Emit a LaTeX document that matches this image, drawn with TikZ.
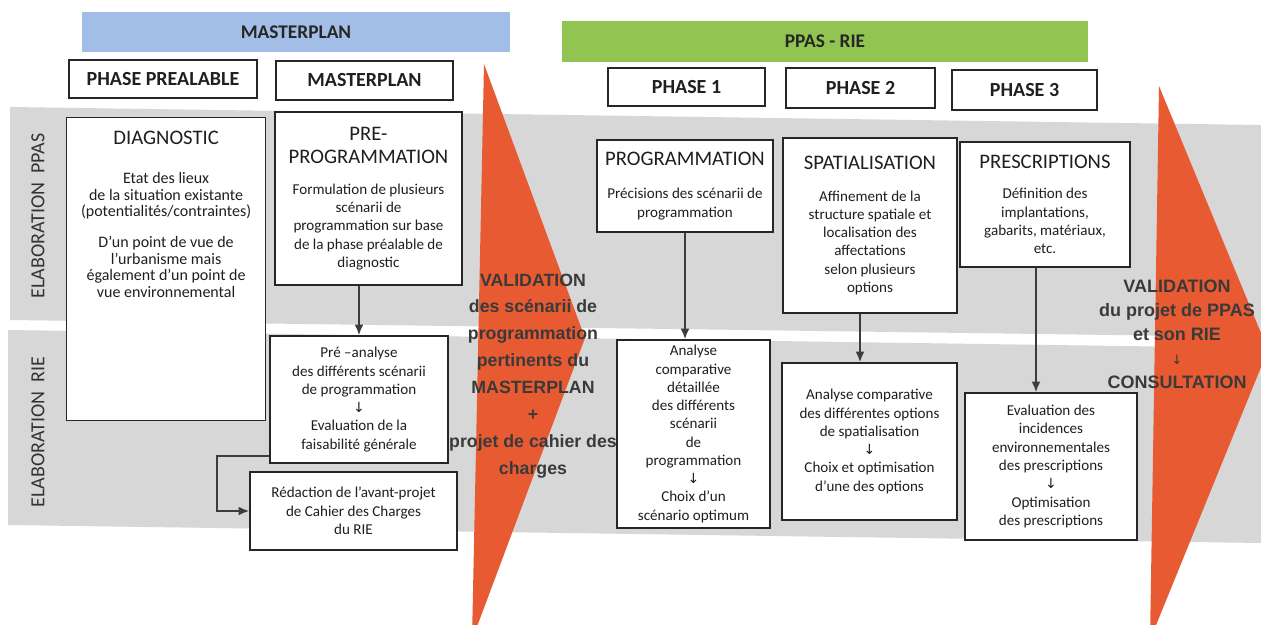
\documentclass[tikz,border=0pt]{standalone}
\usepackage{fontspec}
\setmainfont{Carlito}
\newfontfamily\valfont{Liberation Sans}
\newfontfamily\symfont{DejaVu Sans}
\usetikzlibrary{arrows.meta}
\definecolor{bandgray}{RGB}{215,215,215}
\definecolor{orng}{RGB}{232,90,50}
\definecolor{mpblue}{RGB}{162,190,230}
\definecolor{ppgreen}{RGB}{146,196,82}
\definecolor{valtxt}{RGB}{58,58,58}
\definecolor{conncol}{RGB}{60,60,60}
\newcommand{\darr}{{\symfont\fontsize{10.5}{10}\selectfont ↓}}
\newcommand{\ttl}[1]{{\fontsize{15.5}{18}\selectfont #1}}
\begin{document}
\begin{tikzpicture}[x=0.75pt,y=-0.75pt,
  box/.style={draw=black!85, line width=0.9pt, fill=white, align=center, inner sep=0pt, text=black!88, font=\fontsize{11.3}{13.7}\selectfont},
  hdr/.style={draw=black!85, line width=0.9pt, fill=white, inner sep=0pt, text=black!88, font=\fontsize{15}{18}\selectfont\bfseries},
  bar/.style={inner sep=0pt, text=black!85, font=\fontsize{14.5}{18}\selectfont\bfseries},
  conn/.style={draw=conncol, line width=1.4pt, -{Latex[length=8pt,width=6.5pt]}},
  vlab/.style={rotate=90, text=black!80, font=\fontsize{15}{18}\selectfont},
  valtext/.style={align=center, text=valtxt, inner sep=0pt}
]
\useasboundingbox (0,0) rectangle (1261,625);
\clip (0,0) rectangle (1261,625);
\fill[white] (0,0) rectangle (1261,625);

% bands
\fill[bandgray] (10,107) -- (1261,125) -- (1261,337) -- (10,320) -- cycle;
\fill[bandgray] (8,330) -- (1261,348) -- (1261,543) -- (8,525) -- cycle;

% orange chevrons
\fill[orng] (484,64) -- (585,338) -- (472,640) -- cycle;
\fill[orng] (1159,86) -- (1268,350) -- (1150,640) -- cycle;

% top bars
\node[bar, fill=mpblue, minimum width=321pt, minimum height=30pt] (barmp) at (296,32) {MASTERPLAN};
\node[bar, fill=ppgreen, minimum width=394.5pt, minimum height=30.75pt] (barpp) at (825,41.5) {PPAS - RIE};

% header boxes
\node[hdr, minimum width=141pt, minimum height=28.5pt] (hprea) at (163,79) {PHASE PREALABLE};
\node[hdr, minimum width=132.75pt, minimum height=29.25pt] (hmp) at (364.5,80.5) {MASTERPLAN};
\node[hdr, minimum width=117.75pt, minimum height=28.5pt] (hp1) at (686.5,87) {PHASE 1};
\node[hdr, minimum width=111.75pt, minimum height=30pt] (hp2) at (860.5,88) {PHASE 2};
\node[hdr, minimum width=108.75pt, minimum height=30pt] (hp3) at (1024.5,90) {PHASE 3};

% vertical labels
\node[vlab] (lppas) at (38,216) {ELABORATION\ \ PPAS};
\node[vlab] (lrie) at (38,432) {ELABORATION\ \ RIE};

% DIAGNOSTIC
\node[box, anchor=north west] (diag) at (66,117) {\begin{minipage}[t][227.25pt][t]{149.25pt}\centering
\vspace*{10pt}
{\fontsize{15.5}{18}\selectfont DIAGNOSTIC\par}
\vspace{17pt}
{\fontsize{12}{12.4}\selectfont Etat des lieux\\ de la situation existante\\ (potentialités/contraintes)\par}
\vspace{11pt}
{\fontsize{12}{12.4}\selectfont D’un point de vue de\\ l’urbanisme mais\\ également d’un point de\\ vue environnemental\par}
\end{minipage}};

% MASTERPLAN column
\node[box, minimum width=140.25pt, minimum height=129.75pt] (preprog) at (368.5,198.5)
 {\ttl{PRE-}\\[4pt]\ttl{PROGRAMMATION}\\[9pt]Formulation de plusieurs\\ scénarii de\\ programmation sur base\\ de la phase préalable de\\ diagnostic};
\node[box, minimum width=133.5pt, minimum height=95.25pt] (preana) at (359,399.5)
 {Pré –analyse\\ des différents scénarii\\ de programmation\\ \darr\\ Evaluation de la\\ faisabilité générale};
\node[box, minimum width=155.25pt, minimum height=58.5pt] (redac) at (353.5,511)
 {Rédaction de l’avant-projet\\ de Cahier des Charges\\ du RIE};

% PHASE 1
\node[box, minimum width=132pt, minimum height=69pt] (prog) at (685,186)
 {\ttl{PROGRAMMATION}\\[11pt]Précisions des scénarii de\\ programmation};
\node[box, minimum width=114.75pt, minimum height=141pt] (analyse) at (693.5,434)
 {Analyse\\ comparative\\ détaillée\\ des différents\\ scénarii\\ de\\ programmation\\ \darr\\ Choix d’un\\ scénario optimum};

% PHASE 2
\node[box, minimum width=130.5pt, minimum height=131.25pt] (spat) at (870,225.5)
 {\ttl{SPATIALISATION}\\[10pt]Affinement de la\\ structure spatiale et\\ localisation des\\ affectations\\ selon plusieurs\\ options};
\node[box, minimum width=131.25pt, minimum height=117.75pt] (anacomp) at (869.5,441.5)
 {Analyse comparative\\ des différentes options\\ de spatialisation\\ \darr\\ Choix et optimisation\\ d’une des options};

% PHASE 3
\node[box, minimum width=127.5pt, minimum height=93.75pt] (presc) at (1045,204.5)
 {\ttl{PRESCRIPTIONS}\\[9pt]Définition des\\ implantations,\\ gabarits, matériaux,\\ etc.};
\node[box, minimum width=129pt, minimum height=110.25pt] (eval) at (1051,466.5)
 {Evaluation des\\ incidences\\ environnementales\\ des prescriptions\\ \darr\\ Optimisation\\ des prescriptions};

% connectors
\draw[conn] (preana.north |- preprog.south) -- (preana.north);
\draw[conn] (prog.south) -- (prog.south |- analyse.north);
\draw[conn] ([xshift=-7.5pt]spat.south) -- ([xshift=-7.5pt]spat.south |- anacomp.north);
\draw[conn] ([xshift=-6.75pt]presc.south) -- ([xshift=-6.75pt]presc.south |- eval.north);
\draw[conn] ([yshift=6pt]preana.south west) -- ++(-52,0) |- (redac.west);

% validation texts
\node[valtext, font=\valfont\bfseries\fontsize{13.3}{20.2}\selectfont] (val1) at (533,376)
 {VALIDATION\\ des scénarii de\\ programmation\\ pertinents du\\ MASTERPLAN\\ +\\ projet de cahier des\\ charges};
\node[valtext, font=\valfont\bfseries\fontsize{13.5}{18}\selectfont] (val2) at (1177,334)
 {VALIDATION\\ du projet de PPAS\\ et son RIE\\ {\symfont\mdseries\fontsize{10}{10}\selectfont ↓}\\ CONSULTATION};
\end{tikzpicture}
\end{document}
